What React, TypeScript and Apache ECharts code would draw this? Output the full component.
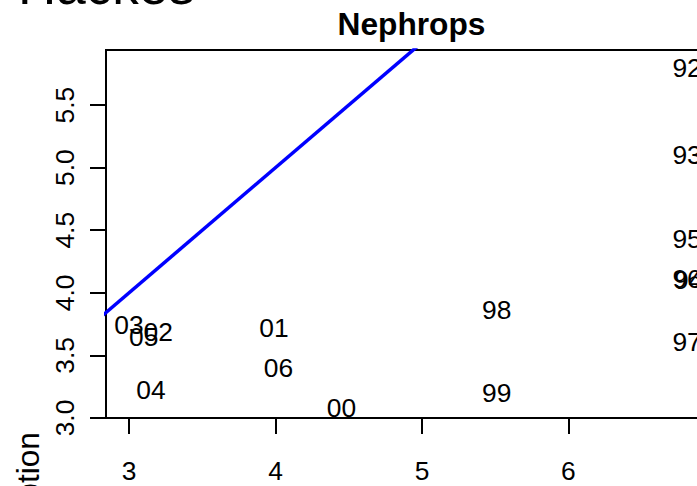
import React, { useEffect, useRef } from "react";
import * as echarts from "echarts";

// Year labels and their positions on the two scales
const years = ["92", "93", "94", "95", "96", "97", "98", "99", "00", "01", "02", "03", "04", "05", "06"];
const xVals = [6.81, 6.81, 6.82, 6.81, 6.81, 6.81, 5.51, 5.51, 4.45, 3.99, 3.2, 3.0, 3.15, 3.1, 4.02];
const yVals = [5.8, 5.1, 4.1, 4.43, 4.11, 3.61, 3.86, 3.2, 3.08, 3.72, 3.69, 3.74, 3.22, 3.65, 3.4];

// Reference line y = x + 1
const refLine = [
  [2, 3],
  [7, 8],
];

const xTicks = [3, 4, 5, 6];
const yTicks = [3.0, 3.5, 4.0, 4.5, 5.0, 5.5];

const FONT = "'Liberation Sans', Arial, Helvetica, sans-serif";
const BASE = 26.4;

export default function App() {
  const ref = useRef<HTMLDivElement>(null);

  useEffect(() => {
    if (!ref.current) return;
    const chart = echarts.init(ref.current, null, { renderer: "svg" });
    const points = years.map((y, i) => [xVals[i], yVals[i], y]);

    chart.setOption({
      animation: false,
      backgroundColor: "#ffffff",
      textStyle: { fontFamily: FONT },
      grid: {
        left: 106,
        top: 50,
        right: 43,
        bottom: 68,
        show: true,
        borderColor: "#000",
        borderWidth: 2,
        backgroundColor: "transparent",
      },
      xAxis: {
        type: "value",
        min: 2.843,
        max: 7.014,
        splitLine: { show: false },
        axisLine: { show: false },
        axisTick: {
          show: true,
          length: 16,
          customValues: xTicks,
          lineStyle: { color: "#000", width: 2 },
        },
        axisLabel: {
          customValues: xTicks,
          margin: 40,
          color: "#000",
          fontSize: BASE,
          fontFamily: FONT,
          formatter: (v: number) => String(v),
        },
      },
      yAxis: {
        type: "value",
        min: 3.0,
        max: 5.94,
        splitLine: { show: false },
        axisLine: { show: false },
        axisTick: {
          show: true,
          length: 16,
          customValues: yTicks,
          lineStyle: { color: "#000", width: 2 },
        },
        axisLabel: {
          customValues: yTicks,
          rotate: 90,
          margin: 28,
          color: "#000",
          fontSize: BASE,
          fontFamily: FONT,
          formatter: (v: number) => v.toFixed(1),
        },
      },
      graphic: [
        {
          type: "text",
          x: 411.5,
          y: 8,
          style: {
            text: "Nephrops",
            fontSize: 31.7,
            fontWeight: "bold",
            fontFamily: FONT,
            fill: "#000",
            align: "center",
            verticalAlign: "top",
          },
        },
        {
          type: "text",
          x: 18,
          y: 12,
          style: {
            text: "Hackes",
            fontSize: 53,
            fontFamily: FONT,
            fill: "#000",
            align: "left",
            verticalAlign: "bottom",
          },
        },
        {
          type: "text",
          x: 27.5,
          y: 432,
          rotation: Math.PI / 2,
          style: {
            text: "Consumption",
            fontSize: 31.7,
            fontFamily: FONT,
            fill: "#000",
            align: "right",
            verticalAlign: "middle",
          },
        },
      ],
      series: [
        {
          type: "line",
          data: refLine,
          showSymbol: false,
          clip: true,
          lineStyle: { color: "#0000ff", width: 3.5 },
          z: 2,
        },
        {
          type: "scatter",
          data: points,
          symbolSize: 0,
          clip: false,
          itemStyle: { opacity: 1 },
          label: {
            show: true,
            position: "inside",
            formatter: (p: any) => p.value[2],
            color: "#000",
            textBorderWidth: 0,
            fontSize: BASE,
            fontFamily: FONT,
          },
          z: 3,
        },
      ],
    });

    return () => chart.dispose();
  }, []);

  return (
    <div
      style={{
        position: "fixed",
        left: 0,
        top: 0,
        width: 697,
        height: 486,
        overflow: "hidden",
        background: "#fff",
      }}
    >
      <div ref={ref} style={{ width: 760, height: 486 }} />
    </div>
  );
}
